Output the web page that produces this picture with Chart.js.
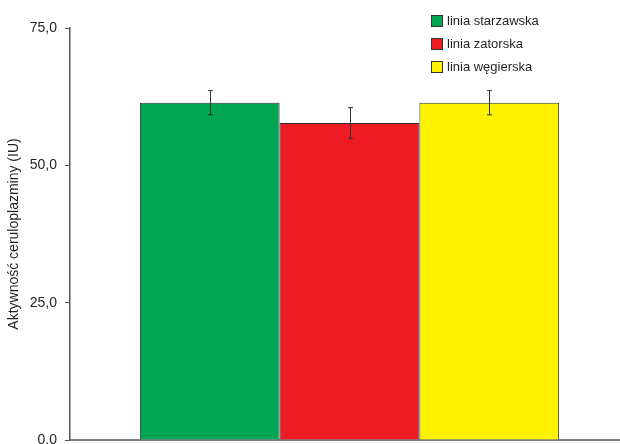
<!DOCTYPE html>
<html>
<head>
<meta charset="utf-8">
<script src="https://cdn.jsdelivr.net/npm/chart.js@4/dist/chart.umd.min.js"></script>
<style>
  html, body { margin: 0; padding: 0; background: #fff; overflow: hidden; }
  #wrap { width: 629px; height: 444px; position: relative; }
</style>
</head>
<body>
<div id="wrap"><canvas id="c"></canvas></div>
<script>
// Ceruloplasmin activity by breeding line (mean ± SD)
const lines = ['linia starzawska', 'linia zatorska', 'linia węgierska'];
const means = [61.4, 57.7, 61.4];
const errors = [2.2, 2.8, 2.2];
const colors = ['#00A651', '#ED1C24', '#FFF200'];
const yTicks = [0, 25, 50, 75];
const yTitle = 'Aktywność ceruloplazminy (IU)';

const FONT = "'Liberation Sans Narrow', 'Liberation Sans', Arial, sans-serif";

// Whiskers drawn on top of each bar
const errorBars = {
  id: 'errorBars',
  afterDatasetsDraw(chart) {
    const ctx = chart.ctx;
    const y = chart.scales.y;
    ctx.save();
    ctx.strokeStyle = '#333';
    ctx.lineWidth = 1;
    chart.data.datasets.forEach((ds, i) => {
      const bar = chart.getDatasetMeta(i).data[0];
      const x = Math.round(bar.x) + 0.5;
      const top = y.getPixelForValue(ds.data[0] + ds.err);
      const bot = y.getPixelForValue(ds.data[0] - ds.err);
      ctx.beginPath();
      ctx.moveTo(x, top); ctx.lineTo(x, bot);
      ctx.moveTo(x - 2.5, top); ctx.lineTo(x + 2.5, top);
      ctx.moveTo(x - 2.5, bot); ctx.lineTo(x + 2.5, bot);
      ctx.stroke();
    });
    ctx.restore();
  }
};

// Stacked legend in the upper right
const boxLegend = {
  id: 'boxLegend',
  afterDraw(chart) {
    const ctx = chart.ctx;
    ctx.save();
    ctx.font = '13px ' + FONT;
    ctx.textBaseline = 'middle';
    chart.data.datasets.forEach((ds, i) => {
      const cy = 21 + i * 23;
      ctx.fillStyle = ds.backgroundColor;
      ctx.fillRect(431.5, cy - 5.5, 11, 11);
      ctx.strokeStyle = '#333';
      ctx.lineWidth = 1;
      ctx.strokeRect(431.5, cy - 5.5, 11, 11);
      ctx.fillStyle = '#231f20';
      ctx.fillText(ds.label, 447, cy + 0.5);
    });
    ctx.restore();
  }
};

new Chart(document.getElementById('c'), {
  type: 'bar',
  data: {
    labels: [''],
    datasets: lines.map((name, i) => ({
      label: name,
      data: [means[i]],
      err: errors[i],
      backgroundColor: colors[i],
      borderColor: '#333',
      borderWidth: 1,
      categoryPercentage: 0.75,
      barPercentage: 1.0
    }))
  },
  options: {
    responsive: true,
    maintainAspectRatio: false,
    animation: false,
    layout: { padding: { top: 28, bottom: 4, left: 0, right: 0 } },
    plugins: { legend: { display: false }, tooltip: { enabled: false } },
    scales: {
      x: {
        grid: { display: false },
        ticks: { display: false },
        border: { display: true, color: '#808080', width: 2 },
        afterFit: s => { s.height = 0; }
      },
      y: {
        min: 0, max: 75,
        afterBuildTicks: s => { s.ticks = yTicks.map(v => ({ value: v })); },
        ticks: {
          color: '#231f20',
          font: { family: FONT, size: 14 },
          padding: 8,
          callback: v => v.toFixed(1).replace('.', ',')
        },
        grid: { drawOnChartArea: false, drawTicks: true, tickLength: 5, color: '#555', lineWidth: 1 },
        border: { display: true, color: '#555', width: 1.5 },
        title: {
          display: true, text: yTitle, color: '#231f20',
          font: { family: FONT, size: 14 }, padding: { top: 6, bottom: 0 }
        },
        afterFit: s => { s.width = 70; s.paddingTop = 0; s.paddingBottom = 0; }
      }
    }
  },
  plugins: [errorBars, boxLegend]
});
</script>
</body>
</html>
